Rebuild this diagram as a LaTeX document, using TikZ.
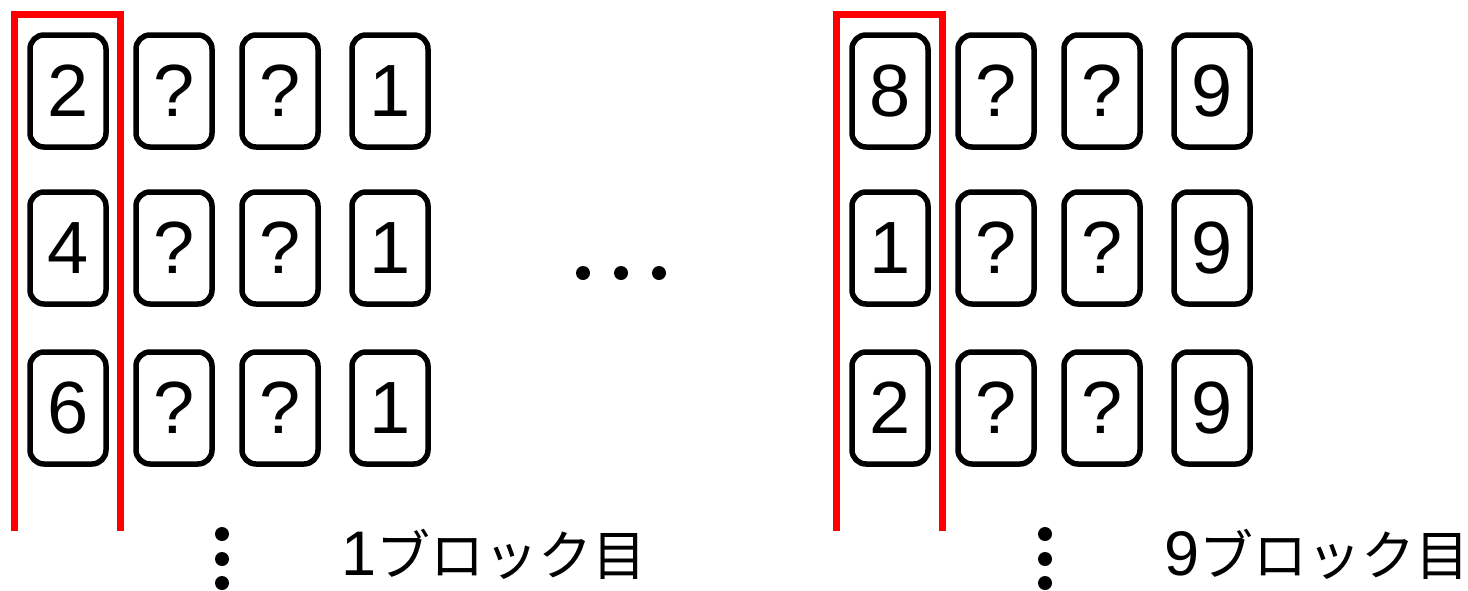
\documentclass[tikz,border=0pt]{standalone}
\usepackage{fontspec}
\setmainfont{Liberation Sans}
\newfontfamily\jpfont{Noto Sans CJK JP}
\usepackage{tikz}
\usetikzlibrary{positioning}
\definecolor{mark}{HTML}{FF0000}

\begin{document}
\begin{tikzpicture}[x=1pt,y=-1pt,node distance=26pt and 26pt,
  card/.style={draw,rounded corners=14pt,line width=5.5pt,minimum width=76pt,
    minimum height=112pt,inner sep=0pt,font=\fontsize{74}{74}\selectfont},
  blocklab/.style={anchor=base west,inner sep=0pt,font=\fontsize{63}{63}\selectfont},
  redline/.style={draw=mark,line width=7pt},
  dot/.style={circle,fill,inner sep=0pt,minimum size=14pt}]
\useasboundingbox (0,0) rectangle (1468,590);
% block 1
\node[card] (a1) at (68,91) {2};
\node[card] (a2) at (174,91) {?};
\node[card] (a3) at (280,91) {?};
\node[card] (a4) at (390,91) {1};
\node[card] (b1) at (68,248) {4};
\node[card] (b2) at (174,248) {?};
\node[card] (b3) at (280,248) {?};
\node[card] (b4) at (390,248) {1};
\node[card] (c1) at (68,408) {6};
\node[card] (c2) at (174,408) {?};
\node[card] (c3) at (280,408) {?};
\node[card] (c4) at (390,408) {1};
\draw[redline] (14,531) -- (14,14) -- (120,14) -- (120,531);
\node[dot] (v1) at (222,534) {};
\node[dot] (v2) at (222,559) {};
\node[dot] (v3) at (222,583) {};
\node[blocklab] (l1) at (341,575) {1{\jpfont\fontsize{54}{54}\selectfont ブロック目}};
% middle
\node[dot] (h1) at (583,273) {};
\node[dot] (h2) at (621,273) {};
\node[dot] (h3) at (659,273) {};
% block 9
\node[card] (d1) at (890,91) {8};
\node[card] (d2) at (996,91) {?};
\node[card] (d3) at (1102,91) {?};
\node[card] (d4) at (1212,91) {9};
\node[card] (e1) at (890,248) {1};
\node[card] (e2) at (996,248) {?};
\node[card] (e3) at (1102,248) {?};
\node[card] (e4) at (1212,248) {9};
\node[card] (f1) at (890,408) {2};
\node[card] (f2) at (996,408) {?};
\node[card] (f3) at (1102,408) {?};
\node[card] (f4) at (1212,408) {9};
\draw[redline] (836,531) -- (836,14) -- (942,14) -- (942,531);
\node[dot] (w1) at (1045,534) {};
\node[dot] (w2) at (1045,559) {};
\node[dot] (w3) at (1045,583) {};
\node[blocklab] (l9) at (1164,575) {9{\jpfont\fontsize{54}{54}\selectfont ブロック目}};
\end{tikzpicture}
\end{document}
